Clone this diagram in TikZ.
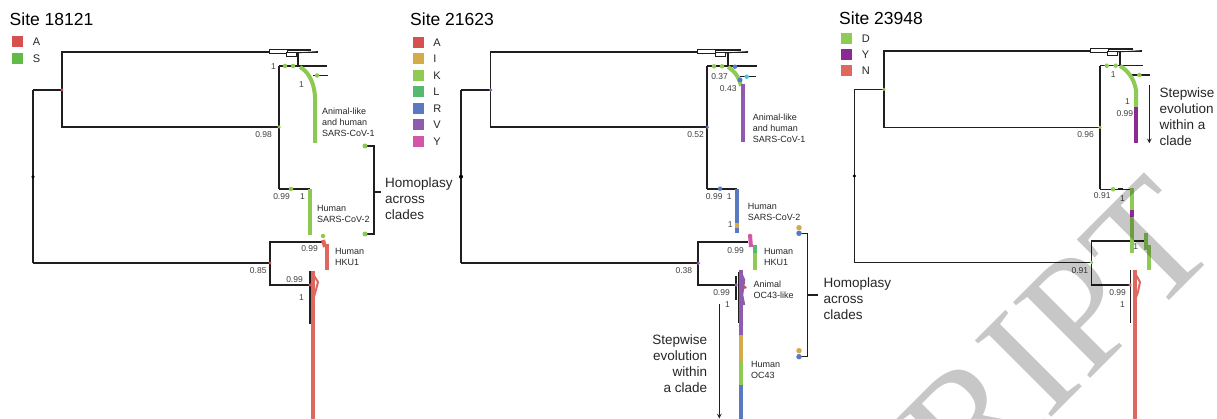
\documentclass[tikz,border=0pt]{standalone}
\usepackage{fontspec}
\setmainfont{Liberation Sans}
\newfontfamily\wmfont{Liberation Serif}
\usetikzlibrary{positioning}
\definecolor{siteA}{HTML}{D65050}
\definecolor{siteS}{HTML}{62BB47}
\definecolor{siteI}{HTML}{D4AA4A}
\definecolor{siteK}{HTML}{8FCB52}
\definecolor{siteL}{HTML}{55B96E}
\definecolor{siteR}{HTML}{5B78C2}
\definecolor{siteV}{HTML}{8E5BB0}
\definecolor{siteY}{HTML}{D257A8}
\definecolor{siteD}{HTML}{8DCB55}
\definecolor{siteYb}{HTML}{8B2A95}
\definecolor{siteN}{HTML}{E0675E}
\definecolor{greenC}{HTML}{8DC950}
\definecolor{redC}{HTML}{E0675E}
\definecolor{cyanC}{HTML}{4FC3D8}

\begin{document}
\begin{tikzpicture}[x=1pt, y=-1pt, every node/.style={inner sep=0pt}]
    \tikzset{branch/.style={draw=black!88,line width=1.1pt},
      thickbranch/.style={draw=black!88,line width=1.7pt},
      clade/.style={line width=4pt},
      tip/.style={circle,minimum size=4.5pt},
      support/.style={font=\fontsize{8.5}{9}\selectfont,text=black!75,anchor=base east},
      cladename/.style={font=\fontsize{9}{11}\selectfont,align=left,anchor=north west,text=black!85},
      note/.style={font=\fontsize{13.5}{16}\selectfont,align=left,anchor=north west,text=black!85},
      sitetitle/.style={font=\fontsize{17.5}{20}\selectfont,anchor=base west},
      key/.style={minimum size=11pt},
      keytext/.style={font=\fontsize{11}{12}\selectfont,text=black!85}}
    \useasboundingbox[fill=white] (0,0) rectangle (1217,419);

    % Site 18121
    \node[sitetitle] (p1title) at (9.5,25.5) {Site 18121};
    \node[key,fill=siteA] (p1ka) at (17.5,41.7) {};
    \node[keytext,right=9.5pt of p1ka] (p1ta) {A};
    \node[key,fill=siteS] (p1ks) at (17.5,59) {};
    \node[keytext,right=9.5pt of p1ks] (p1ts) {S};

    \coordinate (p1root) at (33,177);
    \coordinate (p1top) at (33,90);
    \coordinate (p1bot) at (33,263);
    \coordinate (p1n1) at (62,90);
    \coordinate (p1og) at (269,52);
    \coordinate (p1n2) at (279,127);
    \coordinate (p1n3) at (279,66);
    \coordinate (p1c1) at (327,66);
    \coordinate (p1n4) at (279,189);
    \coordinate (p1c2) at (310,189);
    \coordinate (p1n5) at (270,263);
    \coordinate (p1n6) at (323,242);
    \coordinate (p1n7) at (310,285);
    \coordinate (p1n7a) at (310,271);
    \coordinate (p1n7b) at (310,324);
    \coordinate (p1b1) at (313,75.5);
    \coordinate (p1b2) at (328,75.5);

    \draw[branch] (p1top) -- (p1bot);
    \draw[branch] (p1top) -- (p1n1);
    \draw[branch] (p1n1) |- (p1og);
    \draw[branch] (p1n1) |- (p1n2);
    \draw[branch] (p1n3) -- (p1n4);
    \draw[branch] (p1n3) -- (p1c1);
    \draw[branch] (p1b1) -- (p1b2);
    \draw[branch] (p1n4) -- (p1c2);
    \draw[branch] (p1bot) -- (p1n5);
    \draw[branch] (p1n5) |- (p1n6);
    \draw[branch] (p1n5) |- (p1n7);
    \draw[branch] (p1n7a) -- (p1n7b);
    \begin{scope}[shift={(p1og)}]
      \draw[black!88,line width=2pt] (8,-1.5) -- (42,-1.5);
      \draw[black!88,line width=0.8pt] (0,0) -- (49,0);
      \draw[black!88,fill=white,line width=0.8pt] (0,-2.5) rectangle (18,1);
      \draw[black!88,fill=white,line width=0.8pt] (17,0.5) rectangle (27,4);
      \draw[black!88,line width=0.8pt] (27,1) -- (49,-0.5);
      \draw[branch] (29,0) -- (29,14);
    \end{scope}
    \draw[clade,draw=greenC] (300,67) .. controls (307,71) and (314,80) .. (315,97) -- (315,143);
    \draw[clade,draw=greenC] (310,189) -- (310,235);
    \draw[clade,draw=redC] (327,244) -- (327,270);
    \draw[clade,draw=redC] (323,240) -- (325,247);
    \draw[clade,draw=redC] (313,271) -- (313,419);
    \draw[redC,line width=2pt] (313,274) -- (318,282) -- (316,290) -- (313,300);
    \draw[black!88,line width=1.6pt] (299,189) -- (305,189);
    \node[tip,fill=black,minimum size=3.5pt] (p1d0) at (p1root) {};
    \node[tip,fill=siteA,minimum size=3pt] (p1d1) at (p1n1) {};
    \node[tip,fill=greenC,minimum size=3.5pt] (p1d2) at (p1n2) {};
    \node[tip,fill=greenC] (p1d3) at (285,66) {};
    \node[tip,fill=greenC] (p1d4) at (293,66) {};
    \node[tip,fill=greenC] (p1d5) at (317,75.5) {};
    \node[tip,fill=greenC] (p1d6) at (291,189) {};
    \node[tip,fill=greenC] (p1d7) at (323,236) {};
    \node[tip,fill=siteA,minimum size=3pt] (p1d8) at (p1n5) {};
    \node[tip,fill=siteA,minimum size=3.5pt] (p1d9) at (p1n7) {};

    \node[support] (p1s1) at (276,70) {1};
    \node[support] (p1s2) at (304,87.5) {1};
    \node[support] (p1s3) at (272,137.5) {0.98};
    \node[support] (p1s4) at (290,200) {0.99};
    \node[support] (p1s5) at (305,200) {1};
    \node[support] (p1s6) at (318,251.7) {0.99};
    \node[support] (p1s7) at (266.7,274) {0.85};
    \node[support] (p1s8) at (303,282.7) {0.99};
    \node[support] (p1s9) at (304,300.7) {1};

    \node[cladename] (p1l1) at (322,108) {Animal-like\\and human\\SARS-CoV-1};
    \node[cladename] (p1l2) at (317,205) {Human\\SARS-CoV-2};
    \node[cladename] (p1l3) at (335,248) {Human\\HKU1};

    \coordinate (p1h1) at (365,146);
    \coordinate (p1h2) at (365,234);
    \coordinate (p1hm) at (374,192);
    \coordinate (p1ht) at (381,192);
    \draw[branch] (p1h1) -| (p1hm) |- (p1h2);
    \draw[branch] (p1hm) -- (p1ht);
    \node[tip,fill=greenC,minimum size=5pt] (p1d10) at (p1h1) {};
    \node[tip,fill=greenC,minimum size=5pt] (p1d11) at (p1h2) {};
    \node[note] (p1hom) at (385,178) {Homoplasy\\across\\clades};

    % Site 21623
    \node[sitetitle] (p2title) at (410,25.5) {Site 21623};
    \node[key,fill=siteA] (p2ka) at (418,42.5) {};
    \node[keytext,right=9.5pt of p2ka] (p2ta) {A};
    \node[key,fill=siteI] (p2ki) at (418,59) {};
    \node[keytext,right=9.5pt of p2ki] (p2ti) {I};
    \node[key,fill=siteK] (p2kk) at (418,75.5) {};
    \node[keytext,right=9.5pt of p2kk] (p2tk) {K};
    \node[key,fill=siteL] (p2kl) at (418,92) {};
    \node[keytext,right=9.5pt of p2kl] (p2tl) {L};
    \node[key,fill=siteR] (p2kr) at (418,108.5) {};
    \node[keytext,right=9.5pt of p2kr] (p2tr) {R};
    \node[key,fill=siteV] (p2kv) at (418,125) {};
    \node[keytext,right=9.5pt of p2kv] (p2tv) {V};
    \node[key,fill=siteY] (p2ky) at (418,141.5) {};
    \node[keytext,right=9.5pt of p2ky] (p2ty) {Y};

    \coordinate (p2root) at (461,176.7);
    \coordinate (p2top) at (461,90);
    \coordinate (p2bot) at (461,263.3);
    \coordinate (p2n1) at (490.5,90);
    \coordinate (p2og) at (699,52);
    \coordinate (p2n2) at (707.3,127.3);
    \coordinate (p2n3) at (707.3,66.3);
    \coordinate (p2c1) at (757,66.3);
    \coordinate (p2n4) at (707.3,188.7);
    \coordinate (p2c2) at (737,188.7);
    \coordinate (p2n5) at (698.3,263.3);
    \coordinate (p2n6) at (748,241.7);
    \coordinate (p2n7) at (736,285);
    \coordinate (p2n7a) at (736,276);
    \coordinate (p2n7b) at (736,300);
    \coordinate (p2b1) at (740,76.5);
    \coordinate (p2b2) at (756,76.5);

    \draw[thickbranch] (p2top) -- (p2bot);
    \draw[thickbranch] (p2top) -- (p2n1);
    \draw[thickbranch] (p2n1) |- (p2og);
    \draw[thickbranch] (p2n1) |- (p2n2);
    \draw[thickbranch] (p2n3) -- (p2n4);
    \draw[thickbranch] (p2n3) -- (p2c1);
    \draw[branch] (p2b1) -- (p2b2);
    \draw[thickbranch] (p2n4) -- (p2c2);
    \draw[thickbranch] (p2bot) -- (p2n5);
    \draw[thickbranch] (p2n5) |- (p2n6);
    \draw[thickbranch] (p2n5) |- (p2n7);
    \draw[thickbranch] (p2n7a) -- (p2n7b);
    \draw[branch] (739,272) -- (739,323);
    \begin{scope}[shift={(p2og)}]
      \draw[black!88,line width=2pt] (8,-1.5) -- (42,-1.5);
      \draw[black!88,line width=0.8pt] (-3,0) -- (49,0);
      \draw[black!88,fill=white,line width=0.8pt] (-2,-2.5) rectangle (16,1);
      \draw[black!88,fill=white,line width=0.8pt] (16,0.5) rectangle (26,4);
      \draw[black!88,line width=0.8pt] (27,1) -- (49,-0.5);
      \draw[thickbranch] (29,0) -- (29,14);
    \end{scope}
    \draw[clade,draw=siteK] (728,67) .. controls (733,70) and (739,76) .. (741,86);
    \draw[clade,draw=siteV] (742.7,84) -- (742.7,141.7);
    \draw[clade,draw=siteR] (737.3,188.7) -- (737.3,233.3);
    \draw[clade,draw=siteI] (737.3,223) -- (737.3,228.5);
    \draw[clade,draw=siteY] (750,235) -- (751,247);
    \draw[clade,draw=siteL] (755,245) -- (755,253);
    \draw[clade,draw=siteK] (755,253) -- (755,270);
    \draw[clade,draw=siteV] (740.7,270) -- (740.7,335);
    \draw[siteV,line width=2.5pt] (740,271) -- (744,280) -- (742,295) -- (744,305);
    \draw[clade,draw=siteI] (740.7,335) -- (740.7,361.7);
    \draw[clade,draw=siteK] (740.7,361.7) -- (740.7,385);
    \draw[clade,draw=siteR] (740.7,385) -- (740.7,419);
    \draw[black!88,line width=1.6pt] (724,188.7) -- (729,188.7);
    \node[tip,fill=black,minimum size=4pt] (p2d0) at (p2root) {};
    \node[tip,fill=siteV,minimum size=3.5pt] (p2d1) at (p2n1) {};
    \node[tip,fill=siteR,minimum size=3.5pt] (p2d2) at (p2n2) {};
    \node[tip,fill=siteK] (p2d3) at (714,66.3) {};
    \node[tip,fill=siteK] (p2d4) at (722,66.3) {};
    \node[tip,fill=siteR] (p2d5) at (735,66.7) {};
    \node[tip,fill=cyanC] (p2d6) at (746.7,76.7) {};
    \node[tip,fill=siteR,minimum size=5pt] (p2d7) at (740,80) {};
    \node[tip,fill=siteR] (p2d8) at (720,188.7) {};
    \node[tip,fill=siteV,minimum size=3.5pt] (p2d9) at (p2n5) {};
    \node[tip,fill=siteV,minimum size=3.5pt] (p2d10) at (p2n7) {};
    \node[tip,fill=siteA,minimum size=3.5pt] (p2d11) at (745,287.3) {};
    \node[tip,fill=siteY] (p2d12) at (750,236) {};

    \node[support] (p2s1) at (728,79.3) {0.37};
    \node[support] (p2s2) at (736.7,92) {0.43};
    \node[support] (p2s3) at (704,138) {0.52};
    \node[support] (p2s4) at (722.7,200) {0.99};
    \node[support] (p2s5) at (731.7,200) {1};
    \node[support] (p2s6) at (732.7,228) {1};
    \node[support] (p2s7) at (744,253.3) {0.99};
    \node[support] (p2s8) at (692.3,274) {0.38};
    \node[support] (p2s9) at (730,296) {0.99};
    \node[support] (p2s10) at (730,307.7) {1};

    \node[cladename] (p2l1) at (752.7,113.3) {Animal-like\\and human\\SARS-CoV-1};
    \node[cladename] (p2l2) at (747.7,203.3) {Human\\SARS-CoV-2};
    \node[cladename] (p2l3) at (764,247.7) {Human\\HKU1};
    \node[cladename] (p2l4) at (753.3,281) {Animal\\OC43-like};
    \node[cladename] (p2l5) at (751,360.7) {Human\\OC43};

    \coordinate (p2a1) at (719.3,304);
    \coordinate (p2a2) at (719.3,418.5);
    \draw[branch,-stealth] (p2a1) -- (p2a2);
    \node[note,align=right,anchor=north east] (p2step) at (707.3,335) {Stepwise\\evolution\\within\\a clade};

    \coordinate (p2h1) at (799,233.3);
    \coordinate (p2h2) at (799,356.7);
    \coordinate (p2hm) at (807.5,295);
    \coordinate (p2ht) at (818,295);
    \draw[branch] (p2h1) -| (p2hm) |- (p2h2);
    \draw[branch] (p2hm) -- (p2ht);
    \node[tip,fill=siteI,minimum size=5.5pt] (p2d13) at (799,227.7) {};
    \node[tip,fill=siteR,minimum size=5.5pt] (p2d14) at (p2h1) {};
    \node[tip,fill=siteI,minimum size=5.5pt] (p2d15) at (799,350.7) {};
    \node[tip,fill=siteR,minimum size=5.5pt] (p2d16) at (p2h2) {};
    \node[note] (p2hom) at (823.3,277.3) {Homoplasy\\across\\clades};

    % Site 23948
    \node[sitetitle] (p3title) at (839,25) {Site 23948};
    \node[key,fill=siteD] (p3kd) at (846.5,38.3) {};
    \node[keytext,right=9.5pt of p3kd] (p3td) {D};
    \node[key,fill=siteYb] (p3ky) at (846.5,54.3) {};
    \node[keytext,right=9.5pt of p3ky] (p3ty) {Y};
    \node[key,fill=siteN] (p3kn) at (846.5,70.5) {};
    \node[keytext,right=9.5pt of p3kn] (p3tn) {N};

    \coordinate (p3root) at (854.3,176);
    \coordinate (p3top) at (854.3,89.3);
    \coordinate (p3bot) at (854.3,262.5);
    \coordinate (p3n1) at (884,89.3);
    \coordinate (p3og) at (1091,51);
    \coordinate (p3n2) at (1100,127.3);
    \coordinate (p3n3) at (1100,65.7);
    \coordinate (p3c1) at (1143.3,65.7);
    \coordinate (p3n4) at (1100,189.3);
    \coordinate (p3c2) at (1131.7,189.3);
    \coordinate (p3n5) at (1091.7,262.5);
    \coordinate (p3n6) at (1145,241);
    \coordinate (p3n7) at (1130,285);
    \coordinate (p3n7a) at (1130.7,270);
    \coordinate (p3n7b) at (1130.7,323);
    \coordinate (p3b1) at (1130,75);
    \coordinate (p3b2) at (1150,75);

    \draw[branch] (p3top) -- (p3bot);
    \draw[branch] (p3top) -- (p3n1);
    \draw[branch] (p3n1) |- (p3og);
    \draw[branch] (p3n1) |- (p3n2);
    \draw[branch] (p3n3) -- (p3n4);
    \draw[branch] (p3n3) -- (p3c1);
    \draw[branch] (p3b1) -- (p3b2);
    \draw[branch] (p3n4) -- (p3c2);
    \draw[branch] (p3bot) -- (p3n5);
    \draw[branch] (p3n5) |- (p3n6);
    \draw[branch] (p3n5) |- (p3n7);
    \draw[branch] (p3n7a) -- (p3n7b);
    \begin{scope}[shift={(p3og)}]
      \draw[black!88,line width=2pt] (8,-1.5) -- (42,-1.5);
      \draw[black!88,line width=0.8pt] (-1,0) -- (51,0);
      \draw[black!88,fill=white,line width=0.8pt] (-1,-2.5) rectangle (17,1);
      \draw[black!88,fill=white,line width=0.8pt] (16,0.5) rectangle (26,4);
      \draw[black!88,line width=0.8pt] (27,1) -- (51,-0.5);
      \draw[branch] (29,0) -- (29,14.7);
    \end{scope}
    \draw[clade,draw=siteD] (1120,66) .. controls (1127,70) and (1134,78) .. (1136,90) -- (1136,107);
    \draw[clade,draw=siteYb] (1136,107) -- (1136,143);
    \draw[clade,draw=siteD] (1131.7,188) -- (1131.7,210);
    \draw[clade,draw=siteYb] (1131.7,210) -- (1131.7,216.7);
    \draw[clade,draw=siteD] (1131.7,216.7) -- (1131.7,253.3);
    \draw[clade,draw=siteD] (1146,233) -- (1146,250);
    \draw[clade,draw=siteD] (1149,245) -- (1149,270);
    \draw[clade,draw=redC] (1135,270) -- (1135,419);
    \draw[redC,line width=2pt] (1135,273) -- (1140,282) -- (1138,292) -- (1135,300);
    \draw[black!88,line width=1.6pt] (1118,189.3) -- (1123,189.3);
    \node[tip,fill=black,minimum size=3.5pt] (p3d0) at (p3root) {};
    \node[tip,fill=siteD,minimum size=3.5pt] (p3d1) at (p3n1) {};
    \node[tip,fill=siteD,minimum size=3.5pt] (p3d2) at (p3n2) {};
    \node[tip,fill=siteD] (p3d3) at (1106.7,65.7) {};
    \node[tip,fill=siteD] (p3d4) at (1115.7,65.7) {};
    \node[tip,fill=siteD] (p3d5) at (1139.3,75) {};
    \node[tip,fill=siteD] (p3d6) at (1113,189.3) {};
    \node[tip,fill=siteD,minimum size=3.5pt] (p3d7) at (p3n5) {};
    \node[tip,fill=siteN,minimum size=3.5pt] (p3d8) at (p3n7) {};

    \node[support] (p3s1) at (1115.7,77.3) {1};
    \node[support] (p3s2) at (1130,104.3) {1};
    \node[support] (p3s3) at (1133.3,116.7) {0.99};
    \node[support] (p3s4) at (1094,137.7) {0.96};
    \node[support] (p3s5) at (1110.7,199) {0.91};
    \node[support] (p3s6) at (1125,201.7) {1};
    \node[support] (p3s7) at (1088.3,274) {0.91};
    \node[support] (p3s8) at (1138.3,250) {1};
    \node[support] (p3s9) at (1126,295.7) {0.99};
    \node[support] (p3s10) at (1125,307.7) {1};

    \coordinate (p3a1) at (1149.3,85);
    \coordinate (p3a2) at (1149.3,143.3);
    \draw[branch,-stealth] (p3a1) -- (p3a2);
    \node[note] (p3step) at (1159.3,87.3) {Stepwise\\evolution\\within a\\clade};

    \node[rotate=45,text=black,opacity=0.22,font=\wmfont\fontsize{165}{165}\selectfont] (wm) at (1058,335) {RIPT};
\end{tikzpicture}
\end{document}
